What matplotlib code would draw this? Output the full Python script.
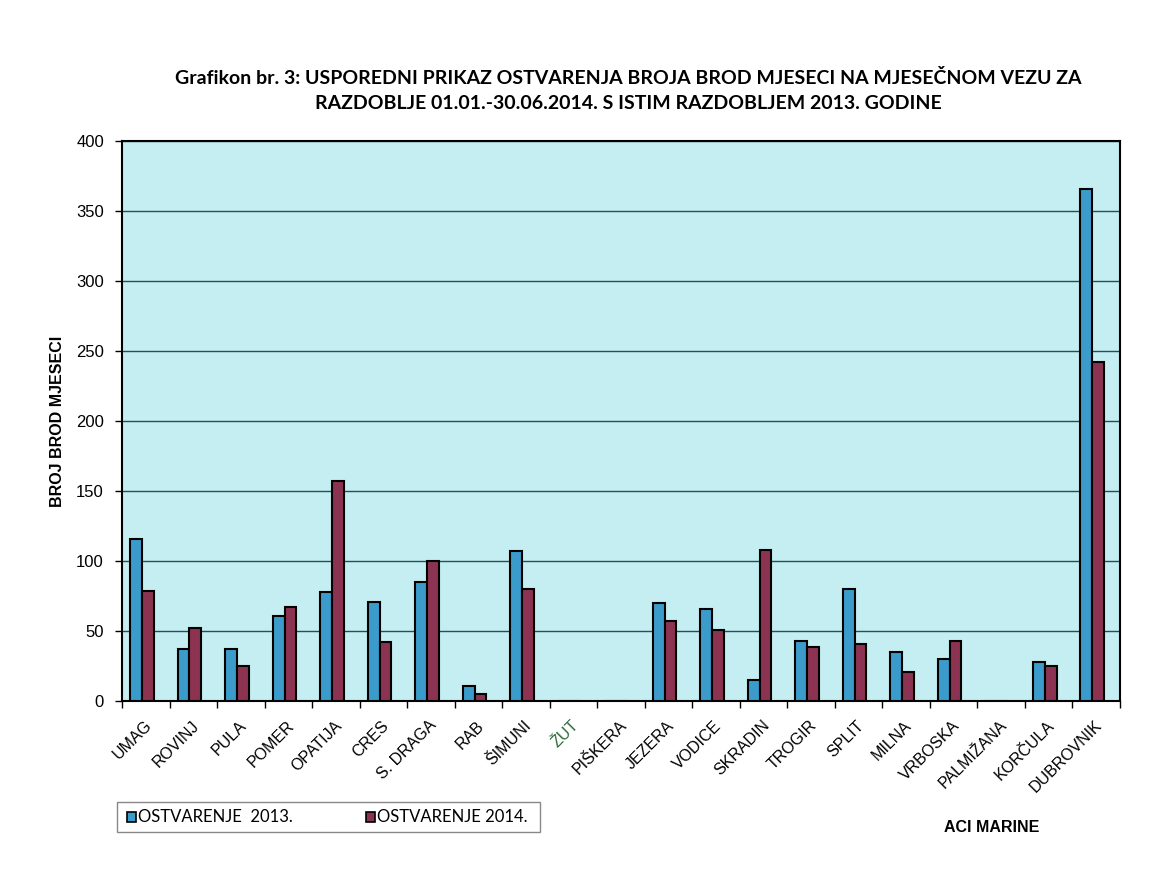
import matplotlib
matplotlib.use("Agg")
import matplotlib.pyplot as plt
import numpy as np
from matplotlib.patches import Rectangle

# --- podaci ---
marine = ["UMAG", "ROVINJ", "PULA", "POMER", "OPATIJA", "CRES", "S. DRAGA", "RAB",
          "ŠIMUNI", "ŽUT", "PIŠKERA", "JEZERA", "VODICE", "SKRADIN", "TROGIR", "SPLIT",
          "MILNA", "VRBOSKA", "PALMIŽANA", "KORČULA", "DUBROVNIK"]
ost_2013 = [116, 37, 37, 61, 78, 71, 85, 11, 107, 0, 0, 70, 66, 15, 43, 80, 35, 30, 0, 28, 366]
ost_2014 = [79, 52, 25, 67, 157, 42, 100, 5, 80, 0, 0, 57, 51, 108, 39, 41, 21, 43, 0, 25, 242]
y_ticks = [0, 50, 100, 150, 200, 250, 300, 350, 400]

C_2013 = "#3b9ccb"
C_2014 = "#8c3352"
BG = "#c4eef2"
GRID = "#264f5a"

fig = plt.figure(figsize=(11.7, 8.72), dpi=100)
ax = fig.add_axes([0.1043, 0.196, 0.8527, 0.642])
ax.set_facecolor(BG)

x = np.arange(len(marine)) - 0.08
w = 0.25
ax.bar(x - w / 2, ost_2013, w, color=C_2013, edgecolor="black", linewidth=1.5, zorder=3)
ax.bar(x + w / 2, ost_2014, w, color=C_2014, edgecolor="black", linewidth=1.5, zorder=3)

ax.set_xlim(-0.5, len(marine) - 0.5)
ax.set_ylim(0, 400)
ax.set_yticks(y_ticks)
ax.set_yticklabels([str(v) for v in y_ticks], fontsize=12, family="Liberation Sans")
ax.yaxis.grid(True, color=GRID, linewidth=1.0, zorder=1)
ax.tick_params(axis="y", length=5, width=1, direction="out", pad=8)

# kvačice na granicama kategorija
ax.set_xticks(np.arange(len(marine) + 1) - 0.5)
ax.set_xticklabels([])
ax.tick_params(axis="x", length=5, width=1, direction="out")
for i, name in enumerate(marine):
    col = "#2e6b3a" if name == "ŽUT" else "black"
    ax.text(i - 0.04, -12, name, rotation=45, ha="right", va="top", rotation_mode="anchor",
            fontsize=11.5, family="Liberation Sans", color=col)

for s in ax.spines.values():
    s.set_linewidth(1.5)
    s.set_color("black")

ax.set_ylabel("BROJ BROD MJESECI", fontsize=11.5, fontweight="bold", family="Liberation Sans",
              labelpad=8)

fig.text(0.537, 0.911, "Grafikon br. 3: USPOREDNI PRIKAZ OSTVARENJA BROJA BROD MJESECI NA MJESEČNOM VEZU ZA",
         ha="center", va="center", fontsize=14, fontweight="bold", family="Lato")
fig.text(0.537, 0.881, "RAZDOBLJE 01.01.-30.06.2014. S ISTIM RAZDOBLJEM 2013. GODINE",
         ha="center", va="center", fontsize=14, fontweight="bold", family="Lato")

# legenda
fig.patches.append(Rectangle((117 / 1170, 1 - 832 / 872), 423 / 1170, 30 / 872,
                             transform=fig.transFigure, facecolor="white",
                             edgecolor="#888888", linewidth=1))
for xs, col, lab in [(127, C_2013, "OSTVARENJE  2013."), (366, C_2014, "OSTVARENJE 2014.")]:
    fig.patches.append(Rectangle((xs / 1170, 1 - 822 / 872), 9 / 1170, 10 / 872,
                                 transform=fig.transFigure, facecolor=col,
                                 edgecolor="black", linewidth=1.2))
    fig.text((xs + 11) / 1170, 1 - 817 / 872, lab, ha="left", va="center",
             fontsize=12, family="Lato")

fig.text(992 / 1170, 1 - 827 / 872, "ACI MARINE", ha="center", va="center",
         fontsize=11.5, fontweight="bold", family="Liberation Sans")

fig.savefig("out.png", dpi=100)
